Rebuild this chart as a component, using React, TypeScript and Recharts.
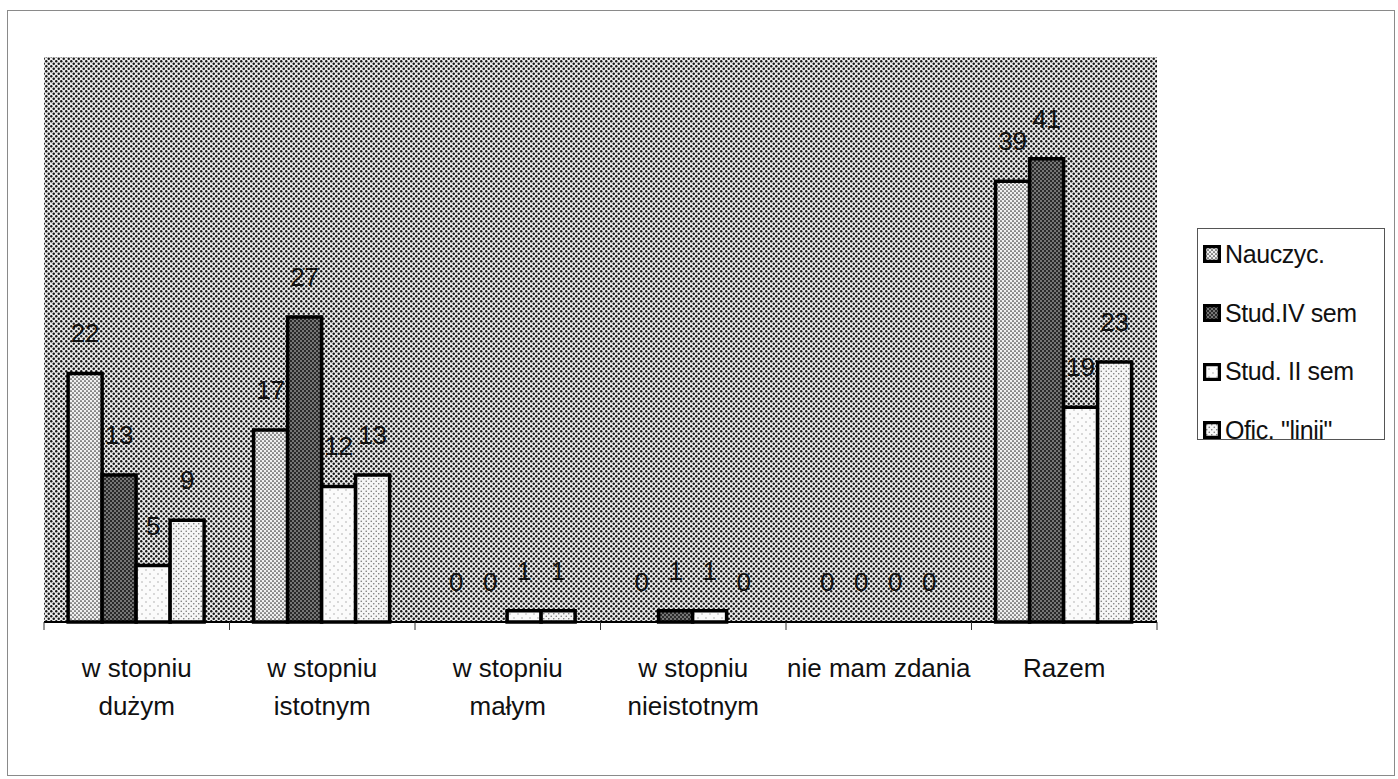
import { BarChart, Bar, XAxis, YAxis, CartesianGrid, LabelList, Cell } from 'recharts';

const CATEGORIES = [
  'w stopniu\ndużym',
  'w stopniu\nistotnym',
  'w stopniu\nmałym',
  'w stopniu\nnieistotnym',
  'nie mam zdania',
  'Razem',
];

const NAUCZYC = [22, 17, 0, 0, 0, 39];
const STUD_IV = [13, 27, 0, 1, 0, 41];
const STUD_II = [5, 12, 1, 1, 0, 19];
const OFIC = [9, 13, 1, 0, 0, 23];

const SERIES = [
  { key: 'nauczyc', name: 'Nauczyc.', values: NAUCZYC, fill: 'url(#pNauczyc)' },
  { key: 'studIV', name: 'Stud.IV sem', values: STUD_IV, fill: 'url(#pStudIV)' },
  { key: 'studII', name: 'Stud. II sem', values: STUD_II, fill: 'url(#pStudII)' },
  { key: 'ofic', name: 'Ofic. "linii"', values: OFIC, fill: 'url(#pOfic)' },
];

const data = CATEGORIES.map((name, i) => {
  const row: any = { name };
  SERIES.forEach(s => {
    row[s.key] = s.values[i];
  });
  return row;
});

const FONT = '"Liberation Sans", Arial, sans-serif';

function Patterns() {
  return (
    <defs>
      <pattern id="pBg" width="5" height="5" patternUnits="userSpaceOnUse">
        <rect width="5" height="5" fill="#ececec" />
        <circle cx="1.25" cy="1.25" r="1.2" fill="#161616" />
        <circle cx="3.75" cy="3.75" r="1.2" fill="#161616" />
      </pattern>
      <pattern id="pNauczyc" width="4" height="4" patternUnits="userSpaceOnUse">
        <rect width="4" height="4" fill="#f0f0f0" />
        <circle cx="1" cy="1" r="0.85" fill="#333" />
        <circle cx="3" cy="3" r="0.85" fill="#333" />
      </pattern>
      <pattern id="pStudIV" width="4" height="4" patternUnits="userSpaceOnUse">
        <rect width="4" height="4" fill="#2a2a2a" />
        <circle cx="1" cy="1" r="0.8" fill="#d8d8d8" />
        <circle cx="3" cy="3" r="0.8" fill="#d8d8d8" />
      </pattern>
      <pattern id="pStudII" width="8" height="8" patternUnits="userSpaceOnUse">
        <rect width="8" height="8" fill="#fbfbfb" />
        <circle cx="2" cy="2" r="0.7" fill="#9a9a9a" />
        <circle cx="6" cy="6" r="0.7" fill="#9a9a9a" />
      </pattern>
      <pattern id="pOfic" width="5" height="5" patternUnits="userSpaceOnUse">
        <rect width="5" height="5" fill="#f6f6f6" />
        <circle cx="1.25" cy="1.25" r="0.8" fill="#777" />
        <circle cx="3.75" cy="3.75" r="0.8" fill="#777" />
      </pattern>
    </defs>
  );
}

// category label plus small boundary ticks at the band edges
function CategoryTick(props: any) {
  const { x, y, payload, index, visibleTicksCount } = props;
  const half = payload?.offset ?? 0;
  const lines = String(payload.value).split('\n');
  const isLast = index === (visibleTicksCount ?? CATEGORIES.length) - 1;
  return (
    <g>
      <line x1={x - half} x2={x - half} y1={y} y2={y + 8} stroke="#333" strokeWidth={1} />
      {isLast && <line x1={x + half} x2={x + half} y1={y} y2={y + 8} stroke="#333" strokeWidth={1} />}
      <text x={x} y={y} textAnchor="middle" fill="#111" fontSize={26} fontFamily={FONT}>
        {lines.map((line, i) => (
          <tspan key={i} x={x} dy={i === 0 ? 55 : 38}>
            {line}
          </tspan>
        ))}
      </text>
    </g>
  );
}

function ValueLabel(props: any) {
  const { x, y, width, value } = props;
  return (
    <text
      x={x + width / 2}
      y={y - 31}
      textAnchor="middle"
      fontSize={26}
      fill="#111"
      fontFamily={FONT}
    >
      {value}
    </text>
  );
}

function LegendSwatch({ fill }: { fill: string }) {
  return (
    <svg width="18" height="18" style={{ display: 'block' }}>
      <Patterns />
      <rect x="1.5" y="1.5" width="15" height="15" fill={fill} stroke="#000" strokeWidth="3.5" />
    </svg>
  );
}

export default function App() {
  return (
    <div
      style={{
        position: 'absolute',
        left: 0,
        top: 0,
        width: 1398,
        height: 779,
        background: '#fff',
        fontFamily: FONT,
      }}
    >
      <div
        style={{
          position: 'absolute',
          left: 7,
          top: 10,
          width: 1388,
          height: 766,
          border: '1px solid #8a8a8a',
          boxSizing: 'border-box',
        }}
      />
      <div style={{ position: 'absolute', left: 0, top: 0 }}>
        <BarChart
          width={1398}
          height={779}
          data={data}
          margin={{ top: 57, right: 241, left: 44, bottom: 47 }}
          barCategoryGap="13%"
          barGap={0}
        >
          <Patterns />
          <CartesianGrid fill="url(#pBg)" stroke="none" horizontal={false} vertical={false} />
          <YAxis hide domain={[0, 50]} />
          <XAxis
            dataKey="name"
            axisLine={{ stroke: '#000', strokeWidth: 2 }}
            tickLine={false}
            tickSize={0}
            tickMargin={0}
            interval={0}
            height={110}
            tick={<CategoryTick />}
          />
          {SERIES.map(s => (
            <Bar
              key={s.key}
              dataKey={s.key}
              name={s.name}
              fill={s.fill}
              stroke="#000"
              strokeWidth={3.5}
              minPointSize={0.01}
              isAnimationActive={false}
            >
              {s.values.map((v, i) => (
                <Cell
                  key={i}
                  fill={v === 0 ? 'none' : s.fill}
                  stroke={v === 0 ? 'none' : '#000'}
                />
              ))}
              <LabelList dataKey={s.key} content={<ValueLabel />} />
            </Bar>
          ))}
        </BarChart>
      </div>
      <div
        style={{
          position: 'absolute',
          left: 1197,
          top: 228,
          width: 188,
          height: 212,
          border: '1px solid #555',
          boxSizing: 'border-box',
          background: '#fff',
        }}
      >
        <div style={{ marginTop: -4 }}>
          {SERIES.map(s => (
            <div key={s.key} style={{ display: 'flex', alignItems: 'center', height: 58.7 }}>
              <div style={{ marginLeft: 5, marginRight: 4 }}>
                <LegendSwatch fill={s.fill} />
              </div>
              <span style={{ fontSize: 25, color: '#111', whiteSpace: 'pre', letterSpacing: -0.4 }}>
                {s.name}
              </span>
            </div>
          ))}
        </div>
      </div>
    </div>
  );
}
